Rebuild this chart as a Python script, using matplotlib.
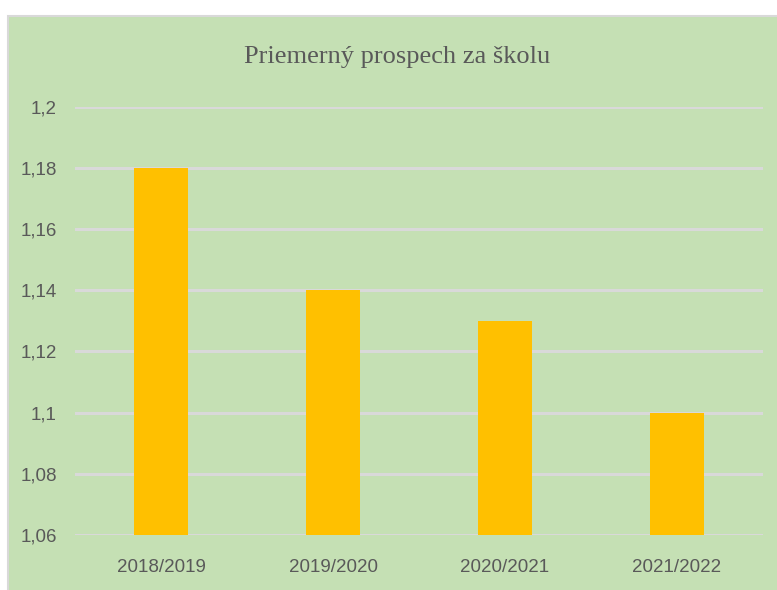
import matplotlib.pyplot as plt
from matplotlib.patches import Rectangle

# Údaje
roky = ['2018/2019', '2019/2020', '2020/2021', '2021/2022']
prospech = [1.18, 1.14, 1.13, 1.10]
y_ticks = [1.06, 1.08, 1.10, 1.12, 1.14, 1.16, 1.18, 1.20]
y_labels = ['1,06', '1,08', '1,1', '1,12', '1,14', '1,16', '1,18', '1,2']

zelena = '#C5E0B4'
seda = '#D9D9D9'
text_farba = '#595959'
tick_font = ['Liberation Sans', 'DejaVu Sans']

fig = plt.figure(figsize=(7.77, 5.90), dpi=100)
fig.patch.set_facecolor('white')

# pozadie grafu s rámikom (vpravo a dole orezané)
fig.patches.append(Rectangle((7.5 / 777, -0.05), 1.1, 1.05 - 16 / 590,
                             transform=fig.transFigure, facecolor=zelena,
                             edgecolor=seda, linewidth=1.5, zorder=-1))

ax = fig.add_axes([75 / 777, 1 - 535 / 590, 688 / 777, (535 - 106.7) / 590])
ax.set_facecolor('none')
ax.set_zorder(1)

x = range(len(roky))
ax.bar(x, [v - 1.06 for v in prospech], bottom=1.06, width=0.314,
       color='#FFC000', zorder=3)

ax.set_xlim(-0.5, len(roky) - 0.5)
ax.set_ylim(1.06, 1.20)
ax.set_yticks(y_ticks)
ax.set_yticklabels(y_labels, family=tick_font, fontsize=13.5, color=text_farba)
ax.set_xticks(list(x))
ax.set_xticklabels(roky, family=tick_font, fontsize=13.5, color=text_farba)
ax.tick_params(axis='y', length=0, pad=13)
ax.tick_params(axis='x', length=0, pad=17)

ax.grid(axis='y', color=seda, linewidth=2.2, zorder=1)
for s in ax.spines.values():
    s.set_visible(False)

fig.text(397 / 777, 1 - 57 / 590, 'Priemerný prospech za školu',
         ha='center', va='center', family=['Liberation Serif', 'DejaVu Serif'],
         fontsize=19, color=text_farba)

fig.savefig('out.png', dpi=100, facecolor=fig.get_facecolor())
